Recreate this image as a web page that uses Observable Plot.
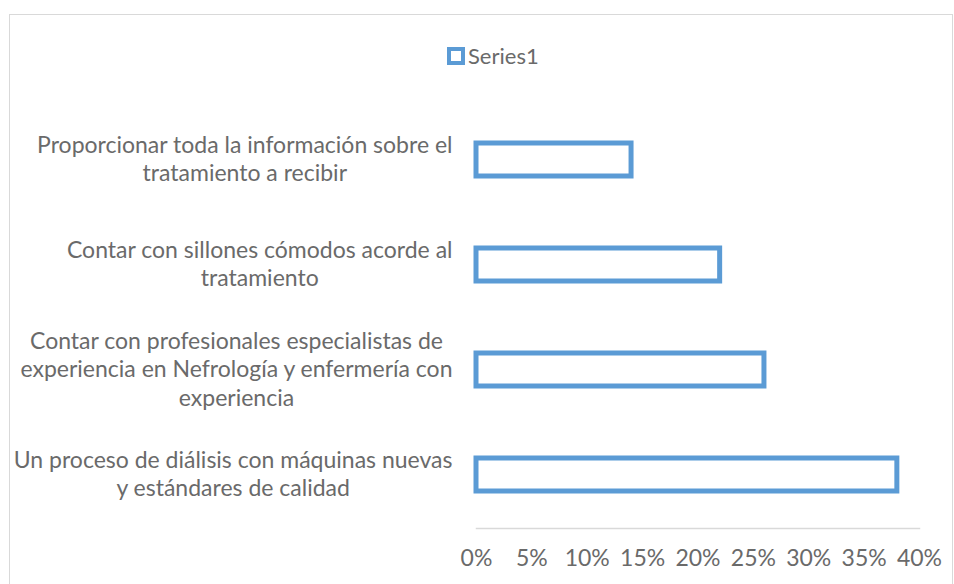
<!DOCTYPE html>
<html><head><meta charset="utf-8">
<script src="https://cdn.jsdelivr.net/npm/d3@7"></script>
<script src="https://cdn.jsdelivr.net/npm/@observablehq/plot@0.6"></script>
<style>
body{margin:0;background:#fff;}
#wrap{position:relative;width:954px;height:584px;overflow:hidden;}
#border{position:absolute;left:9px;top:14px;width:944px;height:620px;border:1.5px solid #d9d9d9;box-sizing:border-box;}
#legend{position:absolute;top:47px;left:447px;display:flex;align-items:center;font-family:Lato,sans-serif;font-size:22px;color:#6a6a6a;line-height:18px;}
#legend .sw{width:18px;height:18px;border:4.5px solid #5b9bd5;box-sizing:border-box;background:#fff;margin-right:3px;}
#chart{position:absolute;left:0;top:0;}
</style>
</head><body>
<div id="wrap"><div id="border"></div><div id="legend"></div><div id="chart"></div></div>
<script>
const seriesName = "Series1";
const categories = [
  "Proporcionar toda la información sobre el\ntratamiento a recibir",
  "Contar con sillones cómodos acorde al\ntratamiento",
  "Contar con profesionales especialistas de\nexperiencia en Nefrología y enfermería con\nexperiencia",
  "Un proceso de diálisis con máquinas nuevas\ny estándares de calidad"
];
const values = [0.14, 0.22, 0.26, 0.38];
const xTicks = [0, 0.05, 0.10, 0.15, 0.20, 0.25, 0.30, 0.35, 0.40];

const data = categories.map((c, i) => ({category: c, value: values[i]}));
const pct = d => Math.round(d * 100) + "%";

const legend = document.getElementById("legend");
legend.innerHTML = `<div class="sw"></div><span>${seriesName}</span>`;

const chart = Plot.plot({
  width: 954, height: 584,
  marginLeft: 476, marginRight: 35, marginTop: 105, marginBottom: 56,
  style: {fontFamily: "Lato, sans-serif", fontSize: "23px", color: "#6a6a6a", background: "transparent"},
  x: {domain: [0, 0.4], ticks: xTicks, tickFormat: pct},
  y: {domain: categories, paddingInner: 0.688, paddingOuter: 0.344, align: 0.5},
  marks: [
    Plot.frame({anchor: "bottom", stroke: "#d9d9d9", strokeWidth: 1.5}),
    Plot.barX(data, {x: "value", y: "category", fill: "white", stroke: "#5b9bd5", strokeWidth: 5}),
    Plot.axisX({ticks: xTicks, tickFormat: pct, tickSize: 0, tickPadding: 21, label: null}),
    Plot.axisY({tickSize: 0, tickPadding: 24, label: null, lineHeight: 1.24, dy: -2})
  ]
});
document.getElementById("chart").appendChild(chart);

// center the lines of each multi-line category label within its block
chart.querySelectorAll('g[aria-label="y-axis tick label"] text').forEach(t => {
  const spans = Array.from(t.querySelectorAll("tspan"));
  if (spans.length < 2) return;
  const widths = spans.map(s => s.getComputedTextLength());
  const W = Math.max(...widths);
  spans.forEach((s, i) => s.setAttribute("x", -(W - widths[i]) / 2));
});
</script>
</body></html>
